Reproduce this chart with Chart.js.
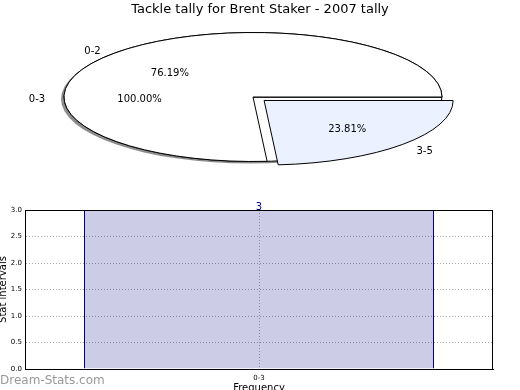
<!DOCTYPE html>
<html>
<head>
<meta charset="utf-8">
<script src="https://cdn.jsdelivr.net/npm/chart.js@4/dist/chart.umd.min.js"></script>
<style>
	body { margin: 0; background: #fff; }
	#wrap { position: relative; width: 520px; height: 390px; overflow: hidden; font-family: "DejaVu Sans", sans-serif; }
	#wrap canvas { position: absolute; left: 0; }
	#mark { position: absolute; left: 0; top: 373px; font-size: 12px; color: #999; }
</style>
</head>
<body>
<div id="wrap">
	<canvas id="barChart" width="520" height="200" style="top:190px"></canvas>
	<canvas id="pieBack" width="520" height="390" style="top:0"></canvas>
	<canvas id="pieFront" width="520" height="390" style="top:0"></canvas>
	<div id="mark">Dream-Stats.com</div>
</div>
<script>
// Chart data
const chartTitle = "Tackle tally for Brent Staker - 2007 tally";
const backPieLabels = ["0-3"];
const backPieValues = [100];
const frontPieLabels = ["3-5", "0-2"];
const frontPieValues = [23.81, 76.19];
const barLabels = ["0-3"];
const barValues = [3];
const yTicks = [0, 0.5, 1, 1.5, 2, 2.5, 3];

// Where the squashed pie sits on the page
const PIE_CX = 253, PIE_CY = 97, PIE_RX = 189, PIE_RY = 64.5;
const PIE_R = 150;

// Squash the round pie into an ellipse, keep strokes 1px, optional drop shadow
function ellipsePlugin(shadow) {
	return {
		id: "ellipse",
		beforeDatasetsDraw(chart) {
			const ctx = chart.ctx;
			const arc = chart.getDatasetMeta(0).data[0];
			const base = ctx.getTransform();
			ctx.save();
			ctx.translate(PIE_CX, PIE_CY);
			ctx.scale(PIE_RX / arc.outerRadius, PIE_RY / arc.outerRadius);
			ctx.translate(-arc.x, -arc.y);
			if (shadow) {
				ctx.shadowColor = "rgba(0, 0, 0, 0.45)";
				ctx.shadowOffsetX = -3;
				ctx.shadowOffsetY = 2;
				ctx.shadowBlur = 0;
			}
			const origStroke = CanvasRenderingContext2D.prototype.stroke;
			ctx.stroke = function () {
				this.save();
				this.setTransform(base);
				this.shadowColor = "rgba(0, 0, 0, 0)";
				origStroke.call(this);
				this.restore();
			};
		},
		afterDatasetsDraw(chart) {
			delete chart.ctx.stroke;
			chart.ctx.restore();
		},
	};
}

// Slice labels and percentages, matplotlib style
function drawPieLabels(chart, ctx) {
	const meta = chart.getDatasetMeta(0);
	const values = chart.data.datasets[0].data;
	const total = values.reduce((s, v) => s + v, 0);
	ctx.save();
	ctx.font = "10px 'DejaVu Sans'";
	ctx.fillStyle = "#000";
	ctx.textBaseline = "middle";
	meta.data.forEach((arc, i) => {
		const a = (arc.startAngle + arc.endAngle) / 2;
		const off = (arc.options.offset || 0) / 4;
		const R = arc.outerRadius;
		const sx = PIE_RX / R, sy = PIE_RY / R;
		const at = (k) => [
			PIE_CX + sx * (off + k * R) * Math.cos(a),
			PIE_CY + 2.5 + sy * (off + k * R) * Math.sin(a),
		];
		const [lx, ly] = at(1.1);
		ctx.textAlign = Math.cos(a) < 0 ? "right" : "left";
		ctx.fillText(chart.data.labels[i], lx, ly);
		const [px, py] = at(0.6);
		ctx.textAlign = "center";
		ctx.fillText((values[i] / total * 100).toFixed(2) + "%", px, py);
	});
	ctx.restore();
}

const pieCharts = [];

const labelsPlugin = {
	id: "pieLabels",
	afterDraw(chart) {
		pieCharts.concat([chart]).forEach((c) => drawPieLabels(c, chart.ctx));
	},
};

function pieConfig(labels, values, colors, offsets, isBack) {
	return {
		type: "pie",
		data: {
			labels: labels,
			datasets: [{
				data: values,
				backgroundColor: colors,
				borderColor: "#000",
				borderWidth: 1,
				offset: offsets,
				hoverOffset: 0,
			}],
		},
		options: {
			responsive: false,
			animation: false,
			events: [],
			rotation: 90,
			radius: PIE_R,
			plugins: {
				legend: { display: false },
				tooltip: { enabled: false },
				title: {
					display: isBack,
					text: chartTitle,
					color: "#000",
					font: { family: "'DejaVu Sans'", size: 13, weight: "normal" },
					padding: { top: 2, bottom: 0 },
				},
			},
		},
		plugins: isBack ? [ellipsePlugin(true)] : [ellipsePlugin(false), labelsPlugin],
	};
}

pieCharts.push(new Chart(document.getElementById("pieBack"),
	pieConfig(backPieLabels, backPieValues, ["#ffffff"], [0], true)));
new Chart(document.getElementById("pieFront"),
	pieConfig(frontPieLabels, frontPieValues, ["#ebf1fe", "#ffffff"], [48, 0], false));

// Frame round the plot area and the value over the bar
const framePlugin = {
	id: "frame",
	afterDraw(chart) {
		const ctx = chart.ctx;
		const a = chart.chartArea;
		ctx.save();
		ctx.strokeStyle = "#000";
		ctx.lineWidth = 1;
		ctx.strokeRect(Math.round(a.left) + 0.5, Math.round(a.top) + 0.5,
			Math.round(a.right - a.left) - 1, Math.round(a.bottom - a.top));
		ctx.font = "10px 'DejaVu Sans'";
		ctx.fillStyle = "#000080";
		ctx.textAlign = "center";
		ctx.textBaseline = "bottom";
		chart.getDatasetMeta(0).data.forEach((bar, i) => {
			ctx.fillText(String(barValues[i]), bar.x, bar.y + 2);
		});
		ctx.restore();
	},
};

new Chart(document.getElementById("barChart"), {
	type: "bar",
	data: {
		labels: barLabels,
		datasets: [{
			data: barValues,
			backgroundColor: "rgba(0, 0, 128, 0.2)",
			borderColor: "#000080",
			borderWidth: { left: 1, right: 1, top: 0, bottom: 0 },
			borderSkipped: false,
			barPercentage: 350 / 468,
			categoryPercentage: 1,
		}],
	},
	options: {
		responsive: false,
		animation: false,
		events: [],
		layout: { padding: { top: 20, right: 27, left: 0, bottom: 0 } },
		plugins: {
			legend: { display: false },
			tooltip: { enabled: false },
		},
		scales: {
			x: {
				afterFit: (s) => { s.height = 21; },
				grid: { offset: false, color: "#aaa", drawTicks: false },
				border: { color: "#000", dash: [1, 2] },
				ticks: { color: "#000", padding: 5, font: { family: "'DejaVu Sans'", size: 7 } },
				title: {
					display: true,
					text: "Frequency",
					color: "#000",
					font: { family: "'DejaVu Sans'", size: 10 },
					padding: { top: 0, bottom: -4 },
				},
			},
			y: {
				min: 0,
				max: 3,
				afterFit: (s) => { s.width = 25; },
				afterBuildTicks: (s) => { s.ticks = yTicks.map((v) => ({ value: v })); },
				grid: { color: "#aaa", drawTicks: false },
				border: { color: "#000", dash: [1, 2] },
				ticks: {
					color: "#000",
					padding: 3,
					font: { family: "'DejaVu Sans'", size: 7 },
					callback: (v) => Number(v).toFixed(1),
				},
				title: {
					display: true,
					text: "Stat intervals",
					color: "#000",
					font: { family: "'DejaVu Sans'", size: 10 },
					padding: { top: -3, bottom: 0 },
				},
			},
		},
	},
	plugins: [framePlugin],
});
</script>
</body>
</html>
